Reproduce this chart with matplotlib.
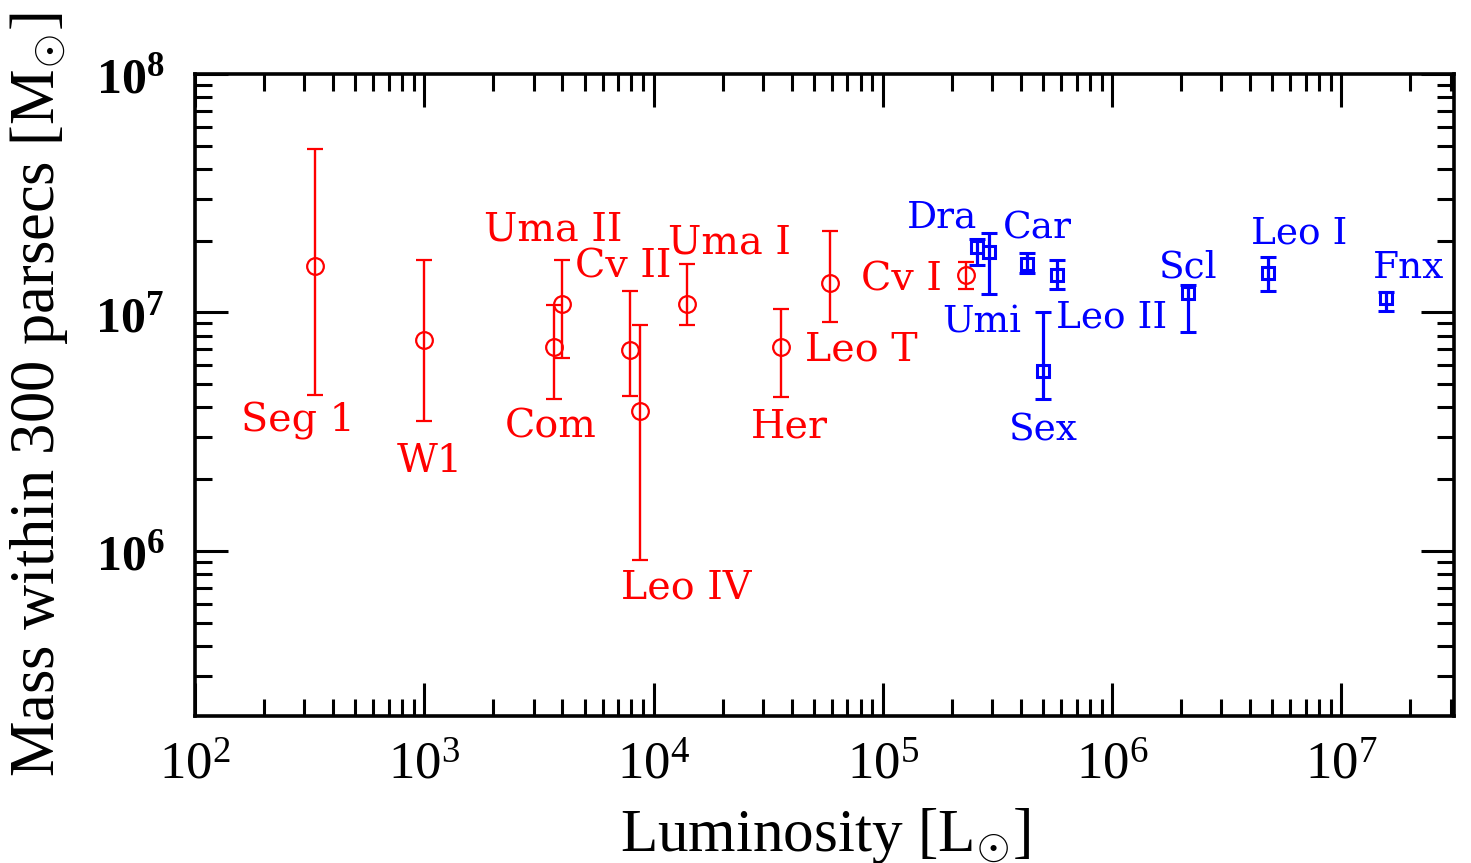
import matplotlib
matplotlib.use("Agg")
import matplotlib.pyplot as plt
from matplotlib.ticker import FixedLocator, LogLocator, NullFormatter

# ---------------- data ----------------
red_names = ["Seg 1", "W1", "Com", "Uma II", "Cv II", "Leo IV", "Uma I", "Her", "Leo T", "Cv I"]
red_lum = [333, 1000, 3680, 3990, 7890, 8690, 13960, 35900, 58700, 230000]
red_mass = [1.57e7, 7.66e6, 7.13e6, 1.08e7, 6.96e6, 3.86e6, 1.09e7, 7.13e6, 1.33e7, 1.435e7]
red_hi = [4.83e7, 1.654e7, 1.07e7, 1.654e7, 1.23e7, 8.85e6, 1.60e7, 1.037e7, 2.19e7, 1.63e7]
red_lo = [4.5e6, 3.51e6, 4.35e6, 6.46e6, 4.48e6, 9.12e5, 8.85e6, 4.43e6, 9.09e6, 1.25e7]

blue_names = ["Dra", "Umi", "Car", "Sex", "Leo II", "Scl", "Leo I", "Fnx"]
blue_lum = [2.58e5, 2.91e5, 4.27e5, 4.98e5, 5.77e5, 2.15e6, 4.79e6, 1.56e7]
blue_mass = [1.887e7, 1.80e7, 1.596e7, 5.68e6, 1.435e7, 1.21e7, 1.46e7, 1.146e7]
blue_hi = [2.04e7, 2.16e7, 1.77e7, 1.007e7, 1.66e7, 1.30e7, 1.71e7, 1.22e7]
blue_lo = [1.58e7, 1.20e7, 1.46e7, 4.33e6, 1.26e7, 8.30e6, 1.23e7, 1.016e7]

x_exponents = [2, 3, 4, 5, 6, 7]
y_exponents = [6, 7, 8]

# label offsets (pixels) relative to each point: (dx, dy)
red_offsets = [(-74, -166), (-28, -132), (-49, -90), (-78, 64), (-55, 72),
               (-19, -187), (-19, 50), (-30, -90), (-25, -78), (-105, -15)]
blue_offsets = [(-70, 19), (-47, -81), (-24, 26), (-34, -69), (-1, -52),
                (-29, 15), (-17, 30), (-13, 20)]

RED = "#ff0000"
BLUE = "#0000ff"

plt.rcParams["mathtext.fontset"] = "custom"
plt.rcParams["mathtext.rm"] = "Liberation Serif"
plt.rcParams["mathtext.it"] = "Liberation Serif:italic"
plt.rcParams["mathtext.bf"] = "Liberation Serif:bold"

fig = plt.figure(figsize=(14.71, 8.63), dpi=100)
ax = fig.add_axes([195 / 1471, 1 - 716 / 863, (1454 - 195) / 1471, (716 - 74) / 863])
ax.set_xscale("log")
ax.set_yscale("log")
ax.set_xlim(100, 3.1e7)
ax.set_ylim(2.03e5, 1e8)

def yerr(m, lo, hi):
    return [[a - b for a, b in zip(m, lo)], [c - a for a, c in zip(m, hi)]]

ax.errorbar(red_lum, red_mass, yerr=yerr(red_mass, red_lo, red_hi), fmt="o",
            color=RED, mfc="none", mec=RED, ms=12, mew=1.6, elinewidth=1.7,
            capsize=6, capthick=1.7, zorder=3)
ax.errorbar(blue_lum, blue_mass, yerr=yerr(blue_mass, blue_lo, blue_hi), fmt="s",
            color=BLUE, mfc="none", mec=BLUE, ms=8, mew=2.2, elinewidth=2.3,
            capsize=6, capthick=2.3, zorder=3)

for n, x, y, off in zip(red_names, red_lum, red_mass, red_offsets):
    ax.annotate(n, (x, y), xytext=off, textcoords="offset pixels",
                ha="left", va="baseline", color=RED, family="DejaVu Serif", fontsize=28.5)
for n, x, y, off in zip(blue_names, blue_lum, blue_mass, blue_offsets):
    ax.annotate(n, (x, y), xytext=off, textcoords="offset pixels",
                ha="left", va="baseline", color=BLUE, family="DejaVu Serif", fontsize=27)

# ticks
ax.xaxis.set_major_locator(FixedLocator([10.0 ** e for e in x_exponents]))
ax.yaxis.set_major_locator(FixedLocator([10.0 ** e for e in y_exponents]))
ax.xaxis.set_minor_locator(LogLocator(base=10, subs=range(2, 10), numticks=20))
ax.yaxis.set_minor_locator(LogLocator(base=10, subs=range(2, 10), numticks=20))
ax.xaxis.set_minor_formatter(NullFormatter())
ax.yaxis.set_minor_formatter(NullFormatter())
ax.set_xticklabels([r"$10^{%d}$" % e for e in x_exponents])
ax.set_yticklabels([r"$\mathbf{10^{%d}}$" % e for e in y_exponents])

ax.tick_params(which="both", direction="in", top=True, right=True, width=2.2, color="black")
ax.tick_params(which="major", length=24)
ax.tick_params(which="minor", length=12)
ax.tick_params(axis="x", which="major", labelsize=38, pad=16)
ax.tick_params(axis="y", which="major", labelsize=36, pad=22)
for s in ax.spines.values():
    s.set_linewidth(2.6)

ax.set_xlabel(r"Luminosity [L$_{\!\odot\!}$]", family="Liberation Serif", fontsize=44)
ax.set_ylabel(r"Mass within 300 parsecs [M$_{\!\odot\!}$]", family="Liberation Serif", fontsize=45)
ax.xaxis.set_label_coords(0.5, -0.14)
ax.yaxis.set_label_coords(-0.099, 0.5)

fig.savefig("out.png", dpi=100)
